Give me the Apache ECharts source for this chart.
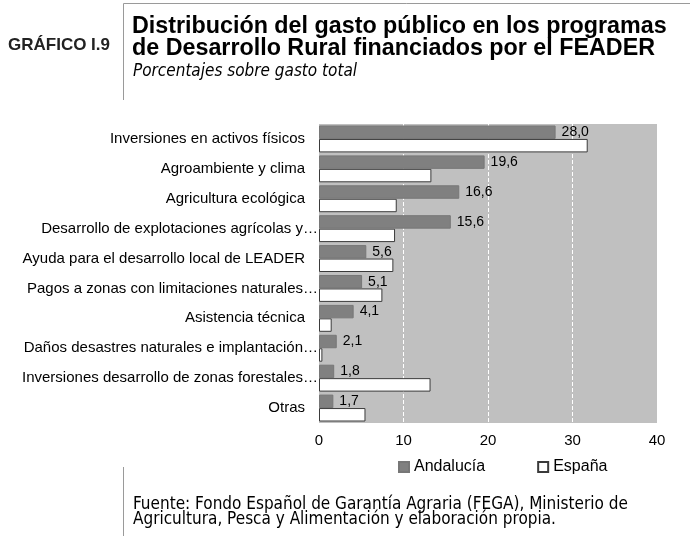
<!DOCTYPE html>
<html>
<head>
<meta charset="utf-8">
<script src="https://cdn.jsdelivr.net/npm/echarts@6/dist/echarts.min.js"></script>
<style>
  html, body { margin: 0; padding: 0; background: #fff; }
  #chart { width: 690px; height: 536px; }
</style>
</head>
<body>
<div id="chart"></div>
<script>
// categorias (de arriba abajo)
var categories = [
  'Inversiones en activos físicos',
  'Agroambiente y clima',
  'Agricultura ecológica',
  'Desarrollo de explotaciones agrícolas y…',
  'Ayuda para el desarrollo local de LEADER',
  'Pagos a zonas con limitaciones naturales…',
  'Asistencia técnica',
  'Daños desastres naturales e implantación…',
  'Inversiones desarrollo de zonas forestales…',
  'Otras'
]
var andalucia = [28.0, 19.6, 16.6, 15.6, 5.6, 5.1, 4.1, 2.1, 1.8, 1.7]
var espana = [31.8, 13.3, 9.2, 9.0, 8.8, 7.5, 1.5, 0.4, 13.2, 5.5]
var seriesNames = ['Andalucía', 'España']

var chart = echarts.init(document.getElementById('chart'))

var lineStyle = { stroke: '#9a9a9a', lineWidth: 1 }

chart.setOption({
  backgroundColor: '#fff',
  animation: false,
  textStyle: { fontFamily: 'Liberation Sans, Arial, sans-serif' },
  graphic: [
    // marco de la cabecera
    { type: 'line', shape: { x1: 123.5, y1: 3.5, x2: 690, y2: 3.5 }, style: lineStyle },
    { type: 'line', shape: { x1: 123.5, y1: 3.5, x2: 123.5, y2: 100 }, style: lineStyle },
    { type: 'line', shape: { x1: 123.5, y1: 467, x2: 123.5, y2: 536 }, style: lineStyle },
    {
      type: 'text', left: 8, top: 37,
      style: { text: 'GRÁFICO I.9', font: 'bold 17px "Liberation Sans", Arial', fill: '#222' }
    },
    {
      type: 'text', left: 132, top: 15,
      style: {
        text: 'Distribución del gasto público en los programas\nde Desarrollo Rural financiados por el FEADER',
        font: 'bold 23.3px "Liberation Sans", Arial', fill: '#000', lineHeight: 22
      }
    },
    {
      type: 'text', left: 133, top: 63,
      style: { text: 'Porcentajes sobre gasto total', font: 'italic 17px "DejaVu Sans Condensed", "DejaVu Sans"', fill: '#000' }
    },
    {
      type: 'text', left: 133, top: 496,
      style: {
        text: 'Fuente: Fondo Español de Garantía Agraria (FEGA), Ministerio de\nAgricultura, Pesca y Alimentación y elaboración propia.',
        font: '17px "DejaVu Sans Condensed", "DejaVu Sans"', fill: '#000', lineHeight: 15
      }
    }
  ],
  legend: {
    data: seriesNames,
    left: 393,
    top: 454,
    itemWidth: 10,
    itemHeight: 10,
    itemGap: 52,
    icon: 'rect',
    textStyle: { fontSize: 16, color: '#000' }
  },
  grid: {
    left: 319,
    right: 33,
    top: 124,
    bottom: 113,
    show: true,
    backgroundColor: '#c0c0c0',
    borderWidth: 0,
    containLabel: false
  },
  xAxis: {
    type: 'value',
    min: 0,
    max: 40,
    interval: 10,
    axisLine: { show: false },
    axisTick: { show: false },
    axisLabel: { color: '#000', fontSize: 15, margin: 10 },
    splitLine: {
      show: true,
      lineStyle: {
        type: 'dashed',
        width: 1,
        color: ['rgba(255,255,255,0)', '#fff', '#fff', '#fff', 'rgba(255,255,255,0)']
      }
    }
  },
  yAxis: {
    type: 'category',
    data: categories,
    inverse: true,
    axisLine: { show: false },
    axisTick: { show: false },
    axisLabel: {
      margin: 1,
      color: '#000',
      fontSize: 15,
      formatter: function (v) {
        // las etiquetas recortadas llegan hasta el eje
        return v.slice(-1) === '…' ? '{t|' + v + '}' : '{n|' + v + '}'
      },
      rich: {
        t: { fontSize: 15, color: '#000' },
        n: { fontSize: 15, color: '#000', padding: [0, 13, 0, 0] }
      }
    }
  },
  series: [
    {
      name: seriesNames[0],
      type: 'bar',
      data: andalucia,
      barGap: 0,
      barCategoryGap: '10%',
      itemStyle: { color: '#808080', borderColor: '#777', borderWidth: 1 },
      label: {
        show: true,
        position: 'right',
        distance: 6,
        color: '#000',
        fontSize: 14,
        formatter: function (p) {
          return p.value.toFixed(1).replace('.', ',')
        }
      },
      z: 2
    },
    {
      name: seriesNames[1],
      type: 'bar',
      data: espana,
      barGap: 0,
      barCategoryGap: '10%',
      itemStyle: { color: '#fff', borderColor: '#3a3a3a', borderWidth: 1 },
      z: 1
    }
  ]
})
</script>
</body>
</html>
